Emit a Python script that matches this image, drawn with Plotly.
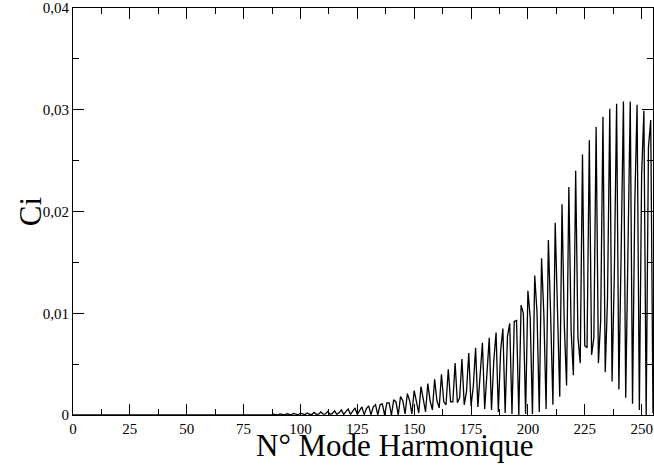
import plotly.graph_objects as go

# Harmonic mode numbers 0..255
harmonic = list(range(256))

# Ci values (one value per harmonic)
ci = [
    0, 0, 0, 0, 0, 0, 0, 0, 0, 0,
    0, 0, 0, 0, 0, 0, 0, 0, 0, 0,
    0, 0, 0, 0, 0, 0, 0, 0, 0, 0,
    0, 0, 0, 0, 0, 0, 0, 0, 0, 0,
    0, 0, 0, 0, 0, 0, 0, 0, 0, 0,
    0, 0, 0, 0, 0, 0, 0, 0, 0, 0,
    0, 0, 0, 0, 0, 0, 0, 0, 0, 0,
    0, 0, 0, 0, 0, 0, 0, 0, 0, 0,
    0, 0, 0.00004, 0.00004, 0, 0.00006, 0.00005, 0, 0.00008, 0.00006,
    0, 0.0001, 0.00007, 0, 0.00012, 0.00007, 0.00001, 0.00015, 0.00007, 0.00002,
    0.00018, 0.00007, 0.00003, 0.0002, 0.00007, 0.00005, 0.00025, 0.00007, 0.00008, 0.0003,
    0.00008, 0.0001, 0.00035, 0.00008, 0.00014, 0.0004, 0.00007, 0.00021, 0.0005, 0.00006,
    0.00029, 0.0006, 0.00006, 0.00038, 0.0007, 0.00005, 0.0005, 0.0008, 0.00003, 0.00064,
    0.0009, 0.00002, 0.0008, 0.0010, 0.00001, 0.0010, 0.0011, 0, 0.0012, 0.0012,
    0, 0.0015, 0.0013, 0, 0.0018, 0.0014, 0.0001, 0.0021, 0.0014, 0.0001,
    0.0024, 0.0014, 0.0002, 0.0028, 0.0015, 0.0003, 0.0031, 0.0014, 0.0005, 0.0035,
    0.0014, 0.0007, 0.0040, 0.0013, 0.0010, 0.0045, 0.0013, 0.0013, 0.0051, 0.0012,
    0.0017, 0.0055, 0.0010, 0.0023, 0.0061, 0.0009, 0.0028, 0.0066, 0.0008, 0.0036,
    0.0071, 0.0006, 0.0043, 0.0076, 0.0005, 0.0053, 0.0081, 0.0003, 0.0063, 0.0085,
    0.0002, 0.0077, 0.0090, 0.0001, 0.0092, 0.0093, 0.0000, 0.0108, 0.0100, 0.0001,
    0.0122, 0.0096, 0.0001, 0.0137, 0.0101, 0.0003, 0.0154, 0.0100, 0.0006, 0.0172,
    0.0098, 0.0010, 0.0189, 0.0095, 0.0018, 0.0207, 0.0089, 0.0029, 0.0224, 0.0083,
    0.0039, 0.0240, 0.0076, 0.0051, 0.0256, 0.0068, 0.0066, 0.0270, 0.0059, 0.0076,
    0.0283, 0.0051, 0.0093, 0.0293, 0.0042, 0.0114, 0.0301, 0.0033, 0.0138, 0.0306,
    0.0025, 0.0161, 0.0308, 0.0017, 0.0185, 0.0308, 0.0011, 0.0209, 0.0305, 0.0005,
    0.0236, 0.0299, 0.0000, 0.0263, 0.0290, 0.0002,
]

x_ticks = [0, 25, 50, 75, 100, 125, 150, 175, 200, 225, 250]
x_tick_labels = ["0", "25", "50", "75", "100", "125", "150", "175", "200", "225", "250"]
y_ticks = [0, 0.01, 0.02, 0.03, 0.04]
y_tick_labels = ["0", "0,01", "0,02", "0,03", "0,04"]

x_title = "N° Mode Harmonique"
y_title = "Ci"

FONT = "Liberation Serif"

fig = go.Figure()
fig.add_trace(go.Scatter(
    x=harmonic, y=ci, mode="lines",
    line=dict(color="black", width=1.3),
    showlegend=False,
))

axis_common = dict(
    showline=True, linecolor="black", linewidth=1.2, mirror="ticks",
    ticks="inside", ticklen=11, tickwidth=1, tickcolor="black",
    showgrid=False, zeroline=False,
    tickfont=dict(family=FONT, size=15, color="black"),
)

fig.update_xaxes(
    range=[0, 255], tickvals=x_ticks, ticktext=x_tick_labels,
    minor=dict(ticks="inside", ticklen=6, dtick=12.5, tick0=0, tickcolor="black", tickwidth=1),
    **axis_common,
)
fig.update_yaxes(
    range=[0, 0.04], tickvals=y_ticks, ticktext=y_tick_labels,
    minor=dict(ticks="inside", ticklen=6, dtick=0.005, tick0=0, tickcolor="black", tickwidth=1),
    **axis_common,
)

fig.add_annotation(
    text=x_title, xref="paper", yref="paper", x=0.556, y=-0.075,
    xanchor="center", yanchor="middle", showarrow=False,
    font=dict(family=FONT, size=31, color="black"),
)
fig.add_annotation(
    text=y_title, xref="paper", yref="paper", x=-0.073, y=0.5,
    xanchor="center", yanchor="middle", showarrow=False, textangle=-90,
    font=dict(family=FONT, size=31, color="black"),
)

fig.update_layout(
    width=654, height=474,
    margin=dict(l=73, r=1, t=8, b=59),
    paper_bgcolor="white", plot_bgcolor="white",
)

fig.write_html(
    "out.html",
    config={"displayModeBar": False},
    post_script="document.body.style.margin='0px';document.body.style.overflow='hidden';",
)
